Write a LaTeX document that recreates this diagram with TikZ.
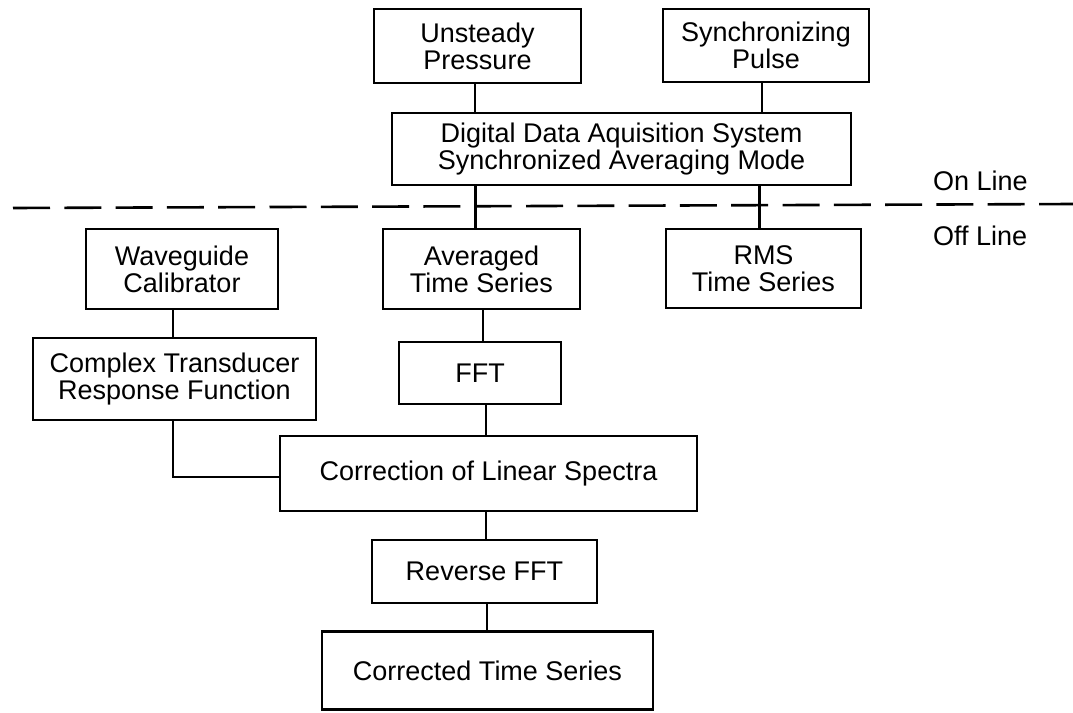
\documentclass[tikz,border=0pt]{standalone}
\usepackage{fontspec}
\setmainfont{Liberation Sans}
\usetikzlibrary{calc}
\begin{document}
\begin{tikzpicture}[x=1pt,y=-1pt,
  box/.style={draw, line width=2.3pt, inner sep=0pt, align=center, font=\fontsize{27}{27}\selectfont},
  link/.style={line width=2.2pt},
  sep/.style={line width=2.6pt, dash pattern=on 37pt off 14.3pt},
  lbl/.style={inner sep=0pt, anchor=base west, font=\fontsize{27}{27}\selectfont}]
\useasboundingbox (0,0) rectangle (1073,712);
% boxes
\node[box, minimum width=207pt, minimum height=74pt] (up)  at (477.5,46)  {Unsteady\\Pressure};
\node[box, minimum width=206pt, minimum height=73pt] (sp)  at (766,45.5)  {Synchronizing\\Pulse};
\node[box, minimum width=459pt, minimum height=72pt] (dd)  at (621.5,149) {Digital Data Aquisition System\\Synchronized Averaging Mode};
\node[box, minimum width=192pt, minimum height=80pt] (wc)  at (182,269)   {Waveguide\\Calibrator};
\node[box, minimum width=197pt, minimum height=80pt] (at)  at (481.5,269) {Averaged\\Time Series};
\node[box, minimum width=195pt, minimum height=79pt] (rms) at (763.5,268.5) {RMS\\Time Series};
\node[box, minimum width=283pt, minimum height=82pt] (ct)  at (174.5,379) {Complex Transducer\\Response Function};
\node[box, minimum width=162pt, minimum height=62pt] (fft) at (480,373)   {FFT};
\node[box, minimum width=417pt, minimum height=75pt] (cls) at (488.5,473.5) {Correction of Linear Spectra};
\node[box, minimum width=225pt, minimum height=63pt] (rf)  at (484.5,571.5) {Reverse FFT};
\node[box, minimum width=331pt, minimum height=78pt] (cts) at (487.5,670.5) {Corrected Time Series};
% separator and labels
\draw[sep] (13,208) -- (1073,204);
\node[lbl] (on)  at (933,190) {On Line};
\node[lbl] (off) at (933,245) {Off Line};
% connectors
\draw[link] ($(up.south)+(-2.5,0)$) -- ($(up.south |- dd.north)+(-2.5,0)$);
\draw[link] ($(sp.south)+(-4,0)$) -- ($(sp.south |- dd.north)+(-4,0)$);
\draw[link] ($(at.north |- dd.south)+(-6,0)$) -- ($(at.north)+(-6,0)$);
\draw[link] ($(rms.north |- dd.south)+(-4,0)$) -- ($(rms.north)+(-4,0)$);
\draw[link] ($(wc.south)+(-9,0)$) -- ($(ct.north)+(-1.5,0)$);
\draw[link] ($(at.south)+(1.5,0)$) -- ($(fft.north)+(3,0)$);
\draw[link] ($(fft.south)+(6,0)$) -- ($(cls.north)+(-2.5,0)$);
\draw[link] ($(ct.south)+(-1.5,0)$) |- ($(cls.west)+(0,3.5)$);
\draw[link] ($(cls.south)+(-2.5,0)$) -- ($(rf.north)+(1.5,0)$);
\draw[link] ($(rf.south)+(2.5,0)$) -- ($(cts.north)+(-0.5,0)$);
\end{tikzpicture}
\end{document}
